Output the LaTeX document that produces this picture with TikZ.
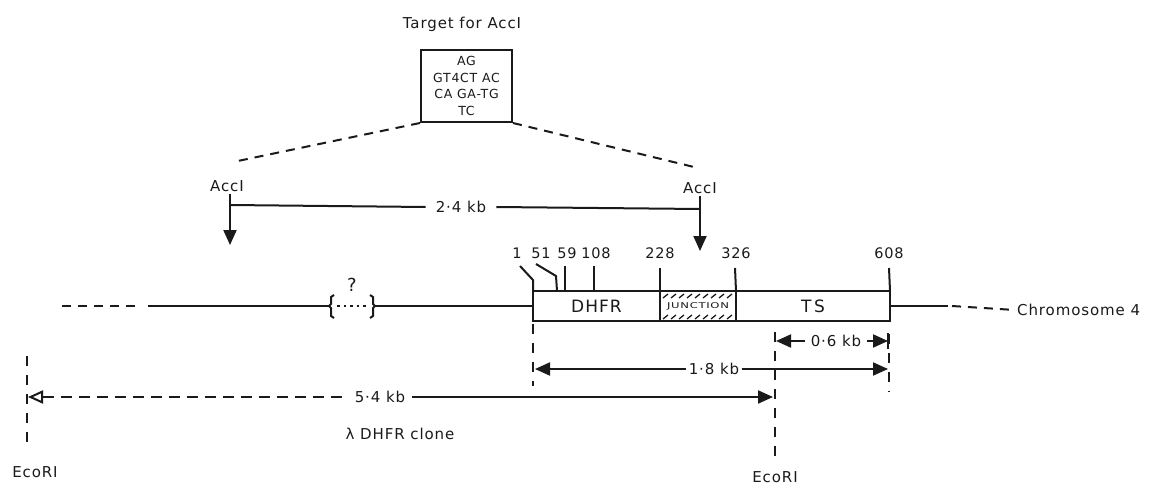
\documentclass[tikz,border=0pt]{standalone}
\usepackage{fontspec}
\setmainfont{DejaVu Sans}[LetterSpace=6]
\usetikzlibrary{arrows.meta}
\definecolor{ink}{HTML}{1A1A1A}
\begin{document}
\begin{tikzpicture}[x=1pt,y=-1pt,
  lbl/.style={font=\fontsize{15}{17}\selectfont, text=ink, inner sep=2pt},
  num/.style={font=\fontsize{14.5}{17}\selectfont, text=ink, inner sep=1pt},
  ln/.style={draw=ink, line width=2pt},
  dsh/.style={ln, dash pattern=on 9pt off 7pt},
  vdsh/.style={ln, dash pattern=on 10pt off 9pt},
  tipF/.style={-{Triangle[length=15pt,width=13pt]}},
  tipB/.style={{Triangle[length=15pt,width=13pt]}-},
  genebox/.style={draw=ink, line width=2pt, minimum height=30pt, inner sep=0pt, outer sep=0pt, anchor=west, text=ink},
  hatch/.style={draw=ink, line width=1.3pt}
]
\useasboundingbox (0,0) rectangle (1150,484);

% target box
\node[lbl] (title) at (462,24) {Target for AccI};
\node[draw=ink, line width=2pt, minimum width=91pt, minimum height=72pt, align=center,
      font=\fontsize{12.5}{16.5}\selectfont, text=ink, inner sep=1pt] (site) at (466.5,86)
      {AG\\GT4CT AC\\CA GA-TG\\TC};
\coordinate (dL) at (233,162);
\coordinate (dR) at (698,168);
\draw[dsh] (site.south west) -- (dL);
\draw[dsh] (site.south east) -- (dR);

% AccI sites
\node[lbl] (accL) at (227,186) {AccI};
\node[lbl] (accR) at (700,188) {AccI};
\coordinate (aLtip) at (230,245);
\coordinate (aRtip) at (700,251);
\draw[ln, tipF] (accL.south -| aLtip) -- (aLtip);
\draw[ln, tipF] (accR.south -| aRtip) -- (aRtip);
\node[lbl, inner xsep=10pt] (kb24) at (461,207) {2·4 kb};
\draw[ln] (230,205) -- (kb24.west);
\draw[ln] (kb24.east) -- (700,209);

% gene box
\node[genebox, minimum width=127pt, font=\fontsize{17}{19}\selectfont] (dhfr) at (533,306) {DHFR};
\node[genebox, minimum width=76pt, font=\fontsize{8}{9}\selectfont] (junc) at (dhfr.east) {\scalebox{1.45}[1]{JUNCTION}};
\node[genebox, minimum width=154pt, font=\fontsize{17}{19}\selectfont] (ts) at (junc.east) {T\,S};
\foreach \x in {663,671,...,727} {
  \draw[hatch] (\x,298) -- (\x+5,294);
  \draw[hatch] (\x,319) -- (\x+5,315);
}

% position numbers
\node[num] (p1) at (517,253) {1};
\node[num] (p51) at (541,253) {51};
\node[num] (p59) at (567,253) {59};
\node[num] (p108) at (596,253) {108};
\node[num] (p228) at (660,253) {228};
\node[num] (p326) at (736,253) {326};
\node[num] (p608) at (889,253) {608};
\draw[ln] (520,266) -- (533,280) -- (dhfr.north west);
\draw[ln] (536,264) -- (556,276) -- (557,291);
\draw[ln] (565,266) -- (565,291);
\draw[ln] (594,266) -- (594,291);
\draw[ln] (660,268) -- (dhfr.north east);
\draw[ln] (735,268) -- (junc.north east);
\draw[ln] (889,268) -- (ts.north east);

% chromosome line
\coordinate (c0) at (62,306);
\coordinate (c1) at (142,306);
\coordinate (c2) at (148,306);
\coordinate (bL) at (329,306);
\coordinate (bR) at (375,306);
\draw[dsh] (c0) -- (c1);
\draw[ln] (c2) -- (bL);
\draw[ln] (334,295) -- (331,297) -- (331,304) -- (bL) -- (331,308) -- (331,316) -- (334,318);
\draw[ln] (370,295) -- (373,297) -- (373,304) -- (bR) -- (373,308) -- (373,316) -- (370,318);
\draw[ln, dash pattern=on 2.5pt off 4pt] (337,306) -- (368,306);
\node[lbl, font=\fontsize{18}{20}\selectfont] (q) at (352,285) {?};
\draw[ln] (bR) -- (dhfr.west);
\node[lbl, anchor=west] (chr) at (1015,310) {Chromosome 4};
\coordinate (c3) at (948,306);
\coordinate (c4) at (952,306);
\draw[ln] (ts.east) -- (c3);
\draw[dsh] (c4) -- (chr.west);

% vertical dashed markers
\coordinate (v1a) at (533,324);
\coordinate (v1b) at (533,386);
\coordinate (v2a) at (775,332);
\coordinate (v2b) at (775,458);
\coordinate (v3a) at (889,334);
\coordinate (v3b) at (889,392);
\coordinate (v4a) at (27,356);
\coordinate (v4b) at (27,447);
\draw[vdsh] (v1a) -- (v1b);
\draw[vdsh] (v2a) -- (v2b);
\draw[vdsh] (v3a) -- (v3b);
\draw[vdsh] (v4a) -- (v4b);

% 0.6 kb
\node[lbl, inner xsep=6pt] (kb06) at (836,341) {0·6 kb};
\draw[ln, tipB] (776,341) -- (kb06.west);
\draw[ln, tipF] (kb06.east) -- (888,341);
\draw[ln] (888,333) -- (888,349);

% 1.8 kb
\node[lbl, inner xsep=3pt] (kb18) at (714,369) {1·8 kb};
\draw[ln, tipB] (535,369) -- (kb18.west);
\draw[ln, tipF] (kb18.east) -- (888,369);

% 5.4 kb
\node[lbl, inner xsep=7pt] (kb54) at (380,397) {5·4 kb};
\draw[ln, dash pattern=on 11pt off 7pt, {Triangle[open,length=15pt,width=13pt]}-] (28,397) -- (kb54.west);
\draw[ln, tipF] (kb54.east) -- (773,397);
\node[lbl] (clone) at (400,434) {λ DHFR clone};
\node[lbl] (ecoL) at (35,472) {EcoRI};
\node[lbl] (ecoR) at (775,477) {EcoRI};
\end{tikzpicture}
\end{document}
